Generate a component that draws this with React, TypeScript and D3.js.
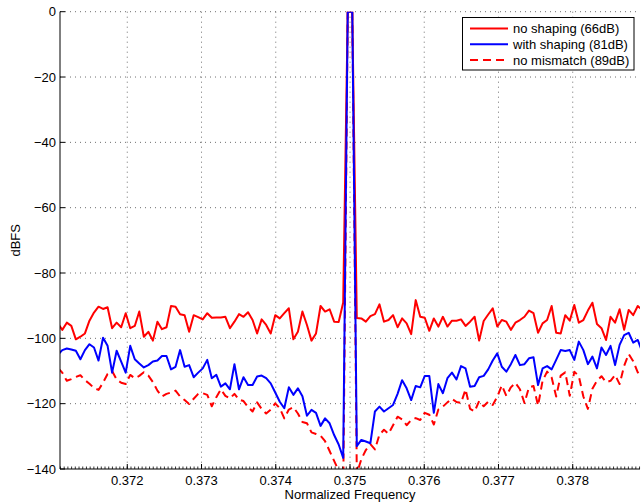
import React from 'react';
import * as d3 from 'd3';

// FFT grid: 130 bins of width 1/16384 straddling 0.375
const binWidth = 1 / 16384;
const firstBinFreq = 0.375 - 64.5 / 16384;
const binCount = 130;

const xTickValues = [0.372, 0.373, 0.374, 0.375, 0.376, 0.377, 0.378];
const xTickLabels = ['0.372', '0.373', '0.374', '0.375', '0.376', '0.377', '0.378'];
const yTickValues = [0, -20, -40, -60, -80, -100, -120, -140];
const yTickLabels = ['0', '\u221220', '\u221240', '\u221260', '\u221280', '\u2212100', '\u2212120', '\u2212140'];

const seriesNames = ['no shaping (66dB)', 'with shaping (81dB)', 'no mismatch (89dB)'];

const noShaping = [
  -95.4, -97.4, -95.2, -96.2, -100.3, -99.5, -98.5, -94.6, -92.1, -90.3,
  -91.0, -90.5, -96.9, -95.2, -96.6, -92.3, -96.9, -96.2, -91.8, -99.5,
  -98.0, -100.7, -94.9, -97.2, -96.6, -90.1, -90.3, -92.6, -92.9, -98.0,
  -92.9, -93.5, -94.2, -92.3, -93.7, -93.6, -93.6, -93.4, -96.9, -94.9,
  -92.6, -93.4, -92.0, -94.4, -98.5, -94.2, -95.9, -98.5, -92.9, -93.9,
  -92.3, -90.8, -100.3, -98.0, -91.8, -95.9, -100.7, -98.5, -90.1, -91.8,
  -91.1, -94.9, -95.0, -89.0, 0.0, 0.0, -93.8,
  -93.9, -94.9, -93.2, -92.6, -89.6, -94.9, -94.4, -92.9, -96.6, -93.9,
  -95.4, -98.7, -88.3, -93.4, -93.7, -97.7, -93.9, -96.4, -93.4, -96.4,
  -94.6, -94.6, -94.2, -96.2, -94.9, -93.4, -100.7, -94.7, -92.7, -90.8,
  -96.4,
  -94.4, -94.9, -97.4, -95.2, -94.4, -93.4, -91.5, -92.3, -98.3, -95.4,
  -94.4, -90.1, -98.3, -98.5, -92.9, -94.6, -89.8, -95.2, -94.4, -91.5,
  -89.1, -95.6, -96.9, -100.5, -93.4, -95.2, -91.1, -97.4, -91.3, -92.9,
  -90.1, -91.3,
];

const withShaping = [
  -105.1, -103.6, -103.1, -103.4, -103.8, -106.4, -103.6, -101.8, -102.8, -106.8,
  -99.8, -102.3, -110.5, -103.8, -107.1, -110.5, -102.3, -106.4, -107.7, -108.9,
  -108.2, -107.1, -106.8, -105.4, -105.4, -109.5, -108.7, -103.6, -108.7, -108.2,
  -111.9, -110.5, -109.2, -106.6, -112.2, -111.2, -114.8, -113.8, -115.6, -107.9,
  -115.6, -111.9, -114.3, -114.3, -111.7, -111.4, -112.2, -113.8, -116.6, -119.4,
  -121.4, -115.0, -117.3, -115.3, -117.7, -123.7, -121.9, -122.8, -126.8, -124.5,
  -126.0, -129.6, -132.5, -136.6, 0.0, 0.0, -133.0,
  -131.1, -131.6, -132.1, -122.4, -120.9, -122.4, -121.4, -120.4, -117.0, -112.8,
  -115.3, -118.9, -114.6, -115.0, -111.5, -111.5, -122.8, -114.0, -116.8, -112.2,
  -110.5, -112.6, -108.5, -109.2, -114.8, -114.6, -111.9, -111.5, -109.5, -106.8,
  -104.6,
  -108.7, -110.2, -107.9, -105.1, -108.2, -107.9, -106.1, -105.8, -114.3, -109.2,
  -108.5, -109.5, -106.6, -103.6, -103.9, -103.6, -106.6, -101.0, -103.6, -107.9,
  -105.6, -109.2, -102.8, -105.1, -102.3, -108.2, -102.0, -99.0, -98.3, -101.3,
  -100.5, -104.1,
];

const noMismatch = [
  -109.0,
  -110.5, -113.0, -112.5, -111.8, -111.3, -112.8, -113.9, -115.2, -115.8, -113.6,
  -110.9, -110.0, -112.6, -113.6, -114.0, -111.2, -112.2, -111.5, -110.4, -111.4,
  -113.4, -116.0, -117.8, -117.0, -116.6, -116.0, -117.8, -118.9, -120.1,
  -118.5, -117.0, -116.8, -117.3, -120.8, -118.0, -115.6, -117.6, -118.4, -117.0,
  -118.8, -119.2, -121.0, -122.4, -119.6, -121.6, -123.0, -121.8, -119.9, -121.4,
  -124.5, -121.8, -121.1, -123.0, -125.6, -126.0, -128.8, -129.3, -129.8, -131.5,
  -134.5, -137.5, -140.5,
  -147.0, 0.0, 0.0,
  -141.5, -137.0, -134.2, -132.4, -134.0, -129.5, -128.0, -129.2, -126.6, -124.0,
  -124.8, -126.6, -125.0, -124.4, -125.0, -122.8, -123.4, -126.4, -121.8, -120.9,
  -119.6, -118.5, -119.5, -119.8, -115.6, -121.6, -122.4, -119.2, -120.8, -119.4,
  -120.4, -117.9,
  -114.4, -117.6, -115.0, -113.6, -115.6, -119.8, -115.0, -114.6, -120.6, -113.0,
  -110.2, -112.0, -117.8, -111.4, -110.4, -117.6, -110.2, -111.6, -117.8, -121.6,
  -115.4, -113.0, -111.6, -113.4, -113.0, -111.2, -114.0, -108.4, -104.8, -107.0,
  -110.4, -112.6,
];

const freqs = d3.range(binCount).map((i) => firstBinFreq + i * binWidth);

const FONT = '"Liberation Sans", Arial, Helvetica, sans-serif';

export default function App() {
  const W = 641;
  const H = 504;
  const left = 60;
  const right = 640;
  const top = 11.7;
  const bottom = 469;

  const x = d3.scaleLinear().domain([0.375 - 64 / 16384, 0.375 + 64 / 16384]).range([left, right]);
  const y = d3.scaleLinear().domain([-140, 0]).range([bottom, top]);

  const line = d3
    .line<number>()
    .x((_, i) => x(freqs[i]))
    .y((d) => y(d));

  const minorStep = 0.00005;
  const [d0, d1] = x.domain();
  const minorTicks = d3
    .range(Math.ceil(d0 / minorStep - 1e-6), Math.floor(d1 / minorStep + 1e-6) + 1)
    .map((k) => k * minorStep);

  const gridColor = '#6f6f6f';
  const series = [
    { name: seriesNames[2], data: noMismatch, color: '#ff0000', dash: '8 5' },
    { name: seriesNames[0], data: noShaping, color: '#ff0000', dash: undefined },
    { name: seriesNames[1], data: withShaping, color: '#0000ff', dash: undefined },
  ];
  const legendItems = [
    { name: seriesNames[0], color: '#ff0000', dash: undefined },
    { name: seriesNames[1], color: '#0000ff', dash: undefined },
    { name: seriesNames[2], color: '#ff0000', dash: '8 5' },
  ];

  return (
    <svg
      width={W}
      height={H}
      style={{ position: 'absolute', left: 0, top: 0, background: '#fff' }}
      fontFamily={FONT}
    >
      <defs>
        <clipPath id="plotClip">
          <rect x={left} y={top} width={right - left} height={bottom - top} />
        </clipPath>
      </defs>
      <rect x={0} y={0} width={W} height={H} fill="#fff" />

      {/* grid */}
      {yTickValues
        .filter((v) => v !== -140)
        .map((v) => (
          <line
            key={'gy' + v}
            x1={left}
            x2={right}
            y1={y(v)}
            y2={y(v)}
            stroke={gridColor}
            strokeWidth={1}
            strokeDasharray="1 4"
          />
        ))}
      {xTickValues.map((v) => (
        <line
          key={'gx' + v}
          x1={x(v)}
          x2={x(v)}
          y1={top}
          y2={bottom}
          stroke={gridColor}
          strokeWidth={1}
          strokeDasharray="1 4"
        />
      ))}

      {/* data */}
      <g clipPath="url(#plotClip)">
        {series.map((s) => (
          <path
            key={s.name}
            d={line(s.data) || ''}
            fill="none"
            stroke={s.color}
            strokeWidth={2}
            strokeDasharray={s.dash}
            strokeLinejoin="round"
          />
        ))}
      </g>

      {/* axes */}
      <line x1={left} x2={left} y1={top} y2={bottom} stroke="#000" strokeWidth={1} />
      <line x1={left} x2={right} y1={bottom} y2={bottom} stroke="#000" strokeWidth={1} />
      {minorTicks.map((v, i) => (
        <line key={'mt' + i} x1={x(v)} x2={x(v)} y1={bottom} y2={bottom - 2.5} stroke="#000" strokeWidth={0.8} />
      ))}
      {xTickValues.map((v) => (
        <line key={'xt' + v} x1={x(v)} x2={x(v)} y1={bottom} y2={bottom - 5} stroke="#000" strokeWidth={1} />
      ))}
      {yTickValues.map((v) => (
        <line key={'yt' + v} x1={left} x2={left + 5} y1={y(v)} y2={y(v)} stroke="#000" strokeWidth={1} />
      ))}

      {/* tick labels */}
      {xTickValues.map((v, i) => (
        <text key={'xl' + v} x={x(v)} y={485} fontSize={13} textAnchor="middle" fill="#000">
          {xTickLabels[i]}
        </text>
      ))}
      {yTickValues.map((v, i) => (
        <text
          key={'yl' + v}
          x={56}
          y={y(v)}
          fontSize={13}
          textAnchor="end"
          dominantBaseline="central"
          fill="#000"
        >
          {yTickLabels[i]}
        </text>
      ))}

      {/* axis titles */}
      <text x={(left + right) / 2} y={499} fontSize={13} textAnchor="middle" fill="#000">
        Normalized Frequency
      </text>
      <text
        transform={`translate(20,${(top + bottom) / 2}) rotate(-90)`}
        fontSize={13}
        textAnchor="middle"
        fill="#000"
      >
        dBFS
      </text>

      {/* legend */}
      <g>
        <rect x={462.5} y={17.5} width={171.5} height={52.5} fill="#fff" stroke="#000" strokeWidth={1} />
        {legendItems.map((it, i) => {
          const cy = 28.5 + i * 15.8;
          return (
            <g key={'lg' + i}>
              <line x1={470} x2={508} y1={cy} y2={cy} stroke={it.color} strokeWidth={2} strokeDasharray={it.dash} />
              <text x={513} y={cy} fontSize={13} dominantBaseline="central" fill="#000">
                {it.name}
              </text>
            </g>
          );
        })}
      </g>
    </svg>
  );
}
